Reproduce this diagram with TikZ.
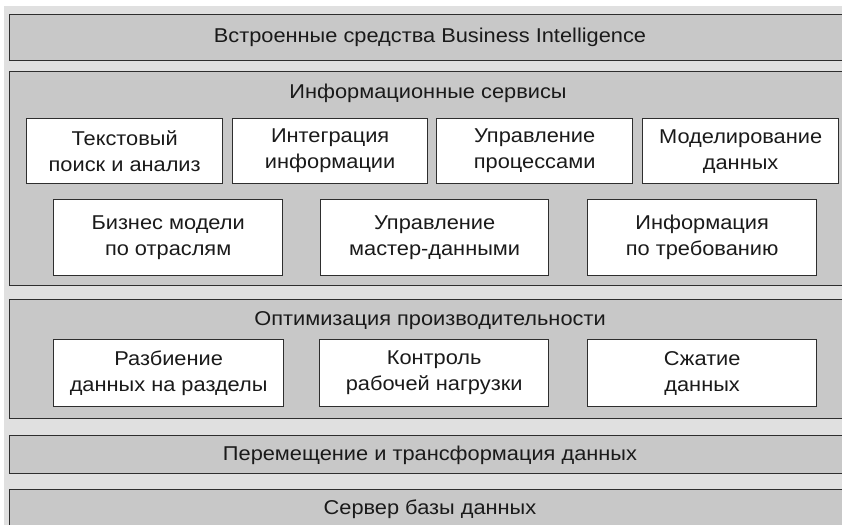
\documentclass[tikz,border=0pt]{standalone}
\usepackage{fontspec}
\setmainfont{Liberation Sans}[FakeStretch=1.09]
\definecolor{bgl}{HTML}{E0E0E0}
\definecolor{bandc}{HTML}{C8C8C8}
\definecolor{edge}{HTML}{2E2E2E}
\definecolor{ink}{HTML}{1A1A1A}
\tikzset{
  band/.style={draw=edge, fill=bandc, line width=1.3pt, anchor=north west, inner sep=0pt, minimum width=841pt},
  wbox/.style={draw=edge, fill=white, line width=1.3pt, anchor=north west, inner sep=0pt, align=center,
    text=ink, font=\fontsize{20}{26}\selectfont},
  lbl/.style={text=ink, anchor=base, inner sep=0pt, font=\fontsize{20}{26}\selectfont}
}
\begin{document}
\begin{tikzpicture}[x=1pt,y=-1pt]
\useasboundingbox (0,0) rectangle (842,524);
\clip (0,0) rectangle (842,524);
\fill[bgl] (4,6) rectangle (860,540);
% bands
\node[band, minimum height=46pt] (b1) at (9,14) {};
\node[band, minimum height=214pt] (b2) at (9,71) {};
\node[band, minimum height=119pt] (b3) at (9,299) {};
\node[band, minimum height=38pt] (b4) at (9,435) {};
\node[band, minimum height=50pt] (b5) at (9,489) {};
% band labels
\node[lbl] (l1) at (430,43) {Встроенные средства Business Intelligence};
\node[lbl] (l2) at (428,99) {Информационные сервисы};
\node[lbl] (l3) at (430,325) {Оптимизация производительности};
\node[lbl] (l4) at (430,460) {Перемещение и трансформация данных};
\node[lbl] (l5) at (430,514) {Сервер базы данных};
% row 1
\node[wbox, minimum width=196pt, minimum height=65pt] (a) at (26,118) {Текстовый\\поиск и анализ};
\node[wbox, minimum width=195pt, minimum height=65pt] (b) at (232,118) {Интеграция\\информации};
\node[wbox, minimum width=196pt, minimum height=65pt] (c) at (436,118) {Управление\\процессами};
\node[wbox, minimum width=196pt, minimum height=65pt] (d) at (642,118) {Моделирование\\данных};
% row 2
\node[wbox, minimum width=229pt, minimum height=76pt] (e) at (53,199) {Бизнес модели\\по отраслям};
\node[wbox, minimum width=228pt, minimum height=76pt] (f) at (320,199) {Управление\\мастер-данными};
\node[wbox, minimum width=229pt, minimum height=76pt] (g) at (587,199) {Информация\\по требованию};
% row 3
\node[wbox, minimum width=230pt, minimum height=67pt] (h) at (53,339) {Разбиение\\данных на разделы};
\node[wbox, minimum width=229pt, minimum height=67pt] (i) at (319,339) {Контроль\\рабочей нагрузки};
\node[wbox, minimum width=229pt, minimum height=67pt] (j) at (587,339) {Сжатие\\данных};
\end{tikzpicture}
\end{document}
